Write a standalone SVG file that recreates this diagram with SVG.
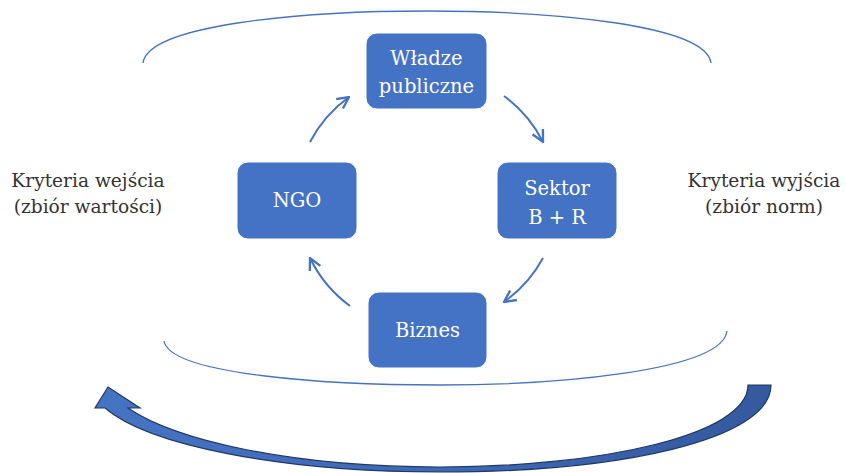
<svg xmlns="http://www.w3.org/2000/svg" width="845" height="473" viewBox="0 0 845 473">
<style>
.box{fill:#4472C4;stroke:#ffffff;stroke-width:1}
.bt{font-family:"DejaVu Serif","Liberation Serif",serif;font-size:19.5px;fill:#ffffff;text-anchor:middle}
.lt{font-family:"DejaVu Serif","Liberation Serif",serif;font-size:18.6px;fill:#333333;text-anchor:middle}
.arc{fill:none;stroke:#4472C4;stroke-width:1.3}
.cyc{fill:none;stroke:#4472C4;stroke-width:2;marker-end:url(#ah)}
</style>
<defs>
<marker id="ah" markerUnits="userSpaceOnUse" markerWidth="14" markerHeight="14" viewBox="0 0 12 12" refX="11" refY="6" orient="auto">
<path d="M1,1 L11,6 L1,11" fill="none" stroke="#4472C4" stroke-width="2"/>
</marker>
<linearGradient id="bg" x1="0" y1="0" x2="1" y2="0">
<stop offset="0" stop-color="#4674C4"/>
<stop offset="0.5" stop-color="#3D69B6"/>
<stop offset="1" stop-color="#34599E"/>
</linearGradient>
</defs>
<g id="frame">
<path class="arc" d="M143,63 C148,25 300,11 427,11 S706,25 711,63"/>
<path class="arc" d="M164,341 C170,375 330,385 440,385 S722,372 727,331"/>
</g>
<g id="connectors">
<path class="cyc" d="M310,142 A130,130 0 0 1 349,97"/>
<path class="cyc" d="M504,96 A130,130 0 0 1 543,142"/>
<path class="cyc" d="M543,258 A130,130 0 0 1 504,302"/>
<path class="cyc" d="M350,306 A130,130 0 0 1 310,258"/>
</g>
<g id="n-wladze">
<rect class="box" x="366" y="33" width="121" height="76" rx="11"/>
<text class="bt" x="426.5" y="65">Władze</text>
<text class="bt" x="426.5" y="93">publiczne</text>
</g>
<g id="n-ngo">
<rect class="box" x="237" y="162" width="120" height="77" rx="11"/>
<text class="bt" x="297" y="207">NGO</text>
</g>
<g id="n-sektor">
<rect class="box" x="497" y="162" width="120" height="77" rx="11"/>
<text class="bt" x="557" y="195">Sektor</text>
<text class="bt" x="557" y="224">B + R</text>
</g>
<g id="n-biznes">
<rect class="box" x="368" y="292" width="119" height="76" rx="11"/>
<text class="bt" x="427.5" y="337">Biznes</text>
</g>
<g id="l-wejscia">
<text class="lt" x="88" y="187">Kryteria wejścia</text>
<text class="lt" x="88" y="213">(zbiór wartości)</text>
</g>
<g id="l-wyjscia">
<text class="lt" x="764" y="187">Kryteria wyjścia</text>
<text class="lt" x="764" y="213">(zbiór norm)</text>
</g>
<g id="big-arrow">
<path d="M748,385 L771,385 C771,440 620,472 440,472 C280,472 148,445 105,408 L95,408 L108,387 L140,408 L128,408 C175,440 290,467 440,467 C600,467 748,435 748,385 Z" fill="url(#bg)" stroke="#1F3864" stroke-width="1.2" stroke-linejoin="miter"/>
</g>
</svg>
